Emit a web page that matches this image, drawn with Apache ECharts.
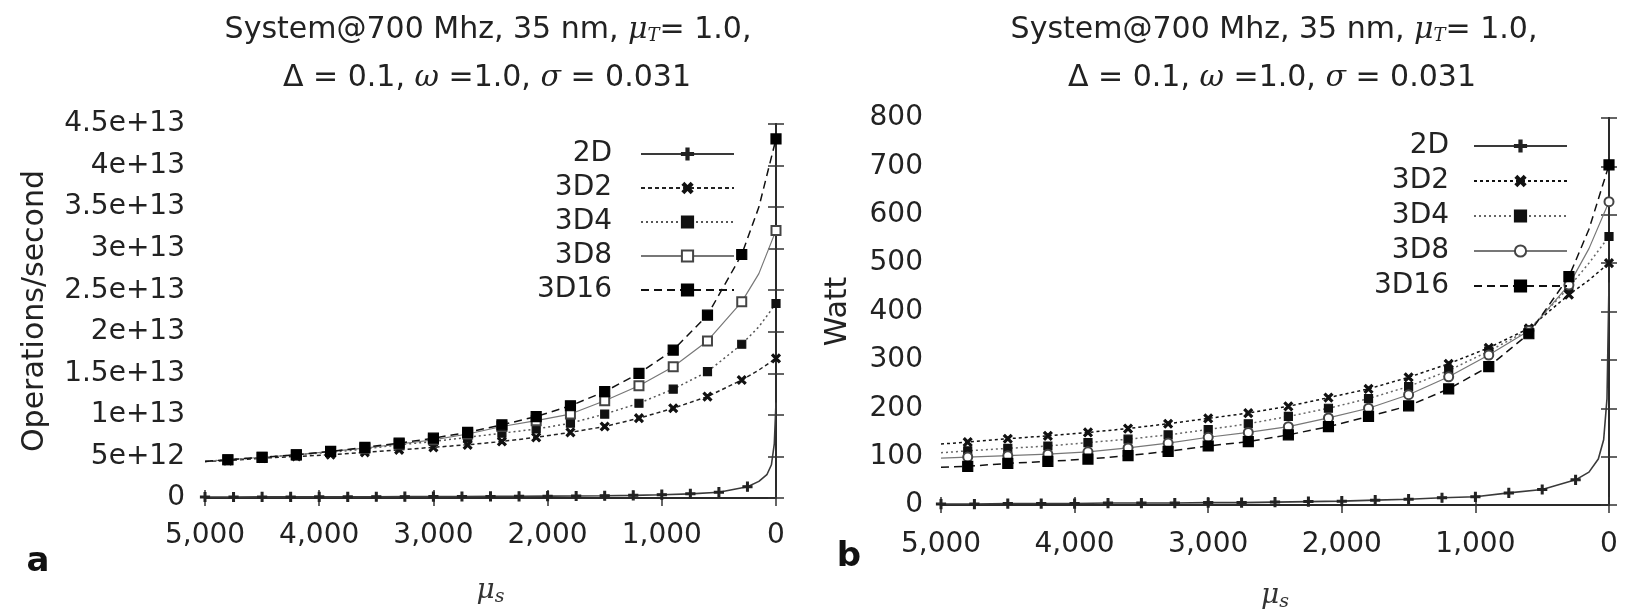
<!DOCTYPE html>
<html><head><meta charset="utf-8">
<script src="https://cdn.jsdelivr.net/npm/echarts@6/dist/echarts.min.js"></script>
<style>html,body{margin:0;padding:0;background:#fff}#c{width:1628px;height:609px}</style>
</head><body><div id="c"></div><script>
// ---------- data ----------
const seriesNames = ['2D', '3D2', '3D4', '3D8', '3D16'];
const xTickLabels = ['0', '1,000', '2,000', '3,000', '4,000', '5,000'];
const opsTickLabels = ['0', '5e+12', '1e+13', '1.5e+13', '2e+13', '2.5e+13', '3e+13', '3.5e+13', '4e+13', '4.5e+13'];
const wattTickLabels = ['0', '100', '200', '300', '400', '500', '600', '700', '800'];
const OPS_UNIT = 1e12;

// mu_s sample points
const mu2D = [5000, 4750, 4500, 4250, 4000, 3750, 3500, 3250, 3000, 2750, 2500, 2250, 2000, 1750, 1500, 1250, 1000, 750, 500, 250, 150, 80, 40, 15, 0];
const mu3D = [5000, 4800, 4500, 4200, 3900, 3600, 3300, 3000, 2700, 2400, 2100, 1800, 1500, 1200, 900, 600, 300, 150, 0];

// panel a: operations/second (units of 1e12)
const ops2D   = [0.12, 0.12, 0.13, 0.13, 0.14, 0.14, 0.15, 0.16, 0.17, 0.18, 0.19, 0.2, 0.22, 0.24, 0.27, 0.32, 0.4, 0.5, 0.7, 1.36, 2.0, 2.8, 4.0, 6.5, 11.5];
const ops3D2  = [4.4, 4.5, 4.8, 5.0, 5.2, 5.5, 5.8, 6.1, 6.4, 6.8, 7.3, 7.9, 8.6, 9.6, 10.8, 12.2, 14.2, 15.4, 16.8];
const ops3D4  = [4.4, 4.6, 4.9, 5.2, 5.5, 5.9, 6.4, 6.8, 7.3, 7.8, 8.3, 9.0, 10.1, 11.4, 13.1, 15.2, 18.5, 20.6, 23.4];
const ops3D8  = [4.4, 4.6, 4.9, 5.2, 5.6, 6.0, 6.5, 7.0, 7.7, 8.6, 9.3, 10.1, 11.7, 13.5, 15.8, 18.9, 23.6, 27.0, 32.2];
const ops3D16 = [4.4, 4.6, 4.9, 5.2, 5.6, 6.1, 6.6, 7.2, 7.9, 8.8, 9.8, 11.1, 12.8, 15.0, 17.8, 22.0, 29.3, 35.0, 43.2];

// panel b: Watt
const watt2D   = [2, 2, 3, 3, 3, 4, 4, 4, 5, 5, 6, 7, 8, 10, 12, 15, 17, 25, 32, 52, 68, 95, 135, 220, 460];
const watt3D2  = [126, 130, 137, 143, 150, 158, 168, 179, 190, 204, 222, 240, 264, 292, 325, 365, 435, 465, 500];
const watt3D4  = [108, 112, 117, 122, 129, 136, 145, 156, 168, 183, 200, 220, 245, 278, 318, 362, 450, 500, 555];
const watt3D8  = [97, 99, 102, 105, 110, 118, 128, 140, 150, 162, 180, 200, 228, 265, 310, 360, 455, 530, 627];
const watt3D16 = [78, 80, 86, 90, 95, 102, 111, 122, 131, 145, 162, 183, 205, 240, 286, 354, 472, 570, 703];

// ---------- styles ----------
const FONT = 'DejaVu Sans';
const plusPath = 'path://M4,0H6V4H10V6H6V10H4V6H0V4H4Z';
const styleA = {
  '2D':   {line: {type: 'solid', color: '#3a3a3a', width: 1.6}, symbol: plusPath, size: 9, rotate: 0, color: '#222'},
  '3D2':  {line: {type: [4, 3], color: '#222', width: 1.5}, symbol: plusPath, size: 10, rotate: 45, color: '#111'},
  '3D4':  {line: {type: [2, 3], color: '#555', width: 1.5}, symbol: 'rect', size: 8, rotate: 0, color: '#111'},
  '3D8':  {line: {type: 'solid', color: '#777', width: 1.2}, symbol: 'emptyRect', size: 9, rotate: 0, color: '#444'},
  '3D16': {line: {type: [8, 5], color: '#111', width: 1.5}, symbol: 'rect', size: 10, rotate: 0, color: '#000'}
};
const styleB = {
  '2D':   {line: {type: 'solid', color: '#3a3a3a', width: 1.6}, symbol: plusPath, size: 9, rotate: 0, color: '#222'},
  '3D2':  {line: {type: [3, 3], color: '#111', width: 1.5}, symbol: plusPath, size: 10, rotate: 45, color: '#111'},
  '3D4':  {line: {type: [2, 3], color: '#666', width: 1.5}, symbol: 'rect', size: 8, rotate: 0, color: '#111'},
  '3D8':  {line: {type: 'solid', color: '#777', width: 1.2}, symbol: 'emptyCircle', size: 9, rotate: 0, color: '#444'},
  '3D16': {line: {type: [8, 5], color: '#111', width: 1.5}, symbol: 'rect', size: 10, rotate: 0, color: '#000'}
};
const B_SUFFIX = '\u200b';

function makeSeries(name, xs, ys, unit, gridIdx, st, legendName) {
  const is2D = name === '2D';
  const data = xs.map((x, i) => {
    const mark = is2D ? (x % 250 === 0 && x > 0) : (x % 300 === 0);
    const item = {value: [x, ys[i] * unit]};
    if (!mark) item.symbol = 'none';
    return item;
  });
  return {
    name: legendName, type: 'line', xAxisIndex: gridIdx * 2, yAxisIndex: gridIdx * 2,
    data, symbol: st.symbol, symbolSize: st.size, symbolRotate: st.rotate, showAllSymbol: true,
    color: st.color, lineStyle: st.line, itemStyle: {color: st.color, borderColor: st.color, borderWidth: 1.2},
    animation: false, silent: true, z: is2D ? 3 : 2
  };
}

const series = [];
const opsData = {'2D': ops2D, '3D2': ops3D2, '3D4': ops3D4, '3D8': ops3D8, '3D16': ops3D16};
const wattData = {'2D': watt2D, '3D2': watt3D2, '3D4': watt3D4, '3D8': watt3D8, '3D16': watt3D16};
seriesNames.forEach(n => series.push(makeSeries(n, n === '2D' ? mu2D : mu3D, opsData[n], OPS_UNIT, 0, styleA[n], n)));
seriesNames.forEach(n => series.push(makeSeries(n, n === '2D' ? mu2D : mu3D, wattData[n], 1, 1, styleB[n], n + B_SUFFIX)));

const axisLineSt = {lineStyle: {color: '#2a2a2a', width: 2}};
const tickSt = {inside: true, length: 8, lineStyle: {color: '#333', width: 1.5}};
const muName = '{mu|μ}{sub|s}';
const muRich = {
  mu: {fontFamily: 'DejaVu Serif', fontStyle: 'italic', fontSize: 28, color: '#333'},
  sub: {fontFamily: 'DejaVu Serif', fontStyle: 'italic', fontSize: 19, color: '#333', verticalAlign: 'bottom', padding: [14, 0, 0, 0]}
};

function xAxes(gridIndex, gap, labelMargin) {
  return [
    {gridIndex, type: 'value', min: 0, max: 5000, interval: 1000, inverse: true, position: 'bottom',
     axisLine: axisLineSt, axisTick: tickSt, splitLine: {show: false},
     axisLabel: {formatter: v => xTickLabels[Math.round(v / 1000)], fontSize: 28, fontFamily: FONT, color: '#222', margin: labelMargin},
     name: muName, nameLocation: 'middle', nameGap: gap, nameTextStyle: {rich: muRich}},
    {gridIndex, type: 'value', min: 0, max: 5000, interval: 1000, inverse: true, position: 'top',
     axisLine: axisLineSt, axisTick: tickSt, splitLine: {show: false}, axisLabel: {show: false}}
  ];
}
function yAxes(gridIndex, max, interval, labels, name, gap, labelMargin) {
  return [
    {gridIndex, type: 'value', min: 0, max, interval, position: 'left',
     axisLine: axisLineSt, axisTick: tickSt, splitLine: {show: false},
     axisLabel: {formatter: v => labels[Math.round(v / interval)], fontSize: 28, fontFamily: FONT, color: '#222', margin: labelMargin},
     name, nameLocation: 'middle', nameGap: gap, nameTextStyle: {fontSize: 30, fontFamily: FONT, color: '#222'}},
    {gridIndex, type: 'value', min: 0, max, interval, position: 'right',
     axisLine: axisLineSt, axisTick: tickSt, splitLine: {show: false}, axisLabel: {show: false}}
  ];
}

const titleRich = {
  g: {fontFamily: 'DejaVu Serif', fontStyle: 'italic', fontSize: 30, fill: '#222'},
  sub: {fontFamily: 'DejaVu Serif', fontStyle: 'italic', fontSize: 18, fill: '#222', verticalAlign: 'bottom', padding: [12, 0, 0, 0]}
};
const titleLine1 = 'System@700 Mhz, 35 nm, {g|μ}{sub|T}= 1.0,';
const titleLine2 = 'Δ = 0.1, {g|ω} =1.0, {g|σ} = 0.031';
function titleText(x, y, text) {
  return {type: 'text', x, y, silent: true,
    style: {text, rich: titleRich, fontSize: 30, fontFamily: FONT, fill: '#222', align: 'center', verticalAlign: 'middle'}};
}

function legendCfg(data, right, top, padRight, gap) {
  return {
    data, orient: 'vertical', align: 'right', right, top, padding: 0,
    itemWidth: 93, itemHeight: 14, itemGap: gap, selectedMode: false,
    formatter: n => n.replace(B_SUFFIX, ''),
    textStyle: {fontSize: 28, fontFamily: FONT, color: '#222', lineHeight: 28, padding: [0, padRight, 0, 0]}
  };
}

const chart = echarts.init(document.getElementById('c'));
chart.setOption({
  backgroundColor: '#fff',
  animation: false,
  textStyle: {fontFamily: FONT},
  grid: [
    {left: 205, top: 124, width: 571, height: 374, containLabel: false, outerBoundsMode: 'none'},
    {left: 941, top: 118, width: 668, height: 387, containLabel: false, outerBoundsMode: 'none'}
  ],
  xAxis: [...xAxes(0, 76, 24), ...xAxes(1, 74, 26)],
  yAxis: [...yAxes(0, 4.5e13, 5e12, opsTickLabels, 'Operations/second', 155, 20),
          ...yAxes(1, 800, 100, wattTickLabels, 'Watt', 88, 18)],
  legend: [
    legendCfg(seriesNames, 893, 140, 24, 6),
    legendCfg(seriesNames.map(n => n + B_SUFFIX), 60, 132, 20, 7)
  ],
  series,
  graphic: [
    titleText(488, 30, titleLine1), titleText(487, 78, titleLine2),
    titleText(1274, 30, titleLine1), titleText(1272, 78, titleLine2),
    {type: 'text', x: 38, y: 562, silent: true, style: {text: 'a', fontSize: 34, fontWeight: 'bold', fontFamily: FONT, fill: '#111', align: 'center', verticalAlign: 'middle'}},
    {type: 'text', x: 849, y: 557, silent: true, style: {text: 'b', fontSize: 34, fontWeight: 'bold', fontFamily: FONT, fill: '#111', align: 'center', verticalAlign: 'middle'}}
  ]
});
</script></body></html>
